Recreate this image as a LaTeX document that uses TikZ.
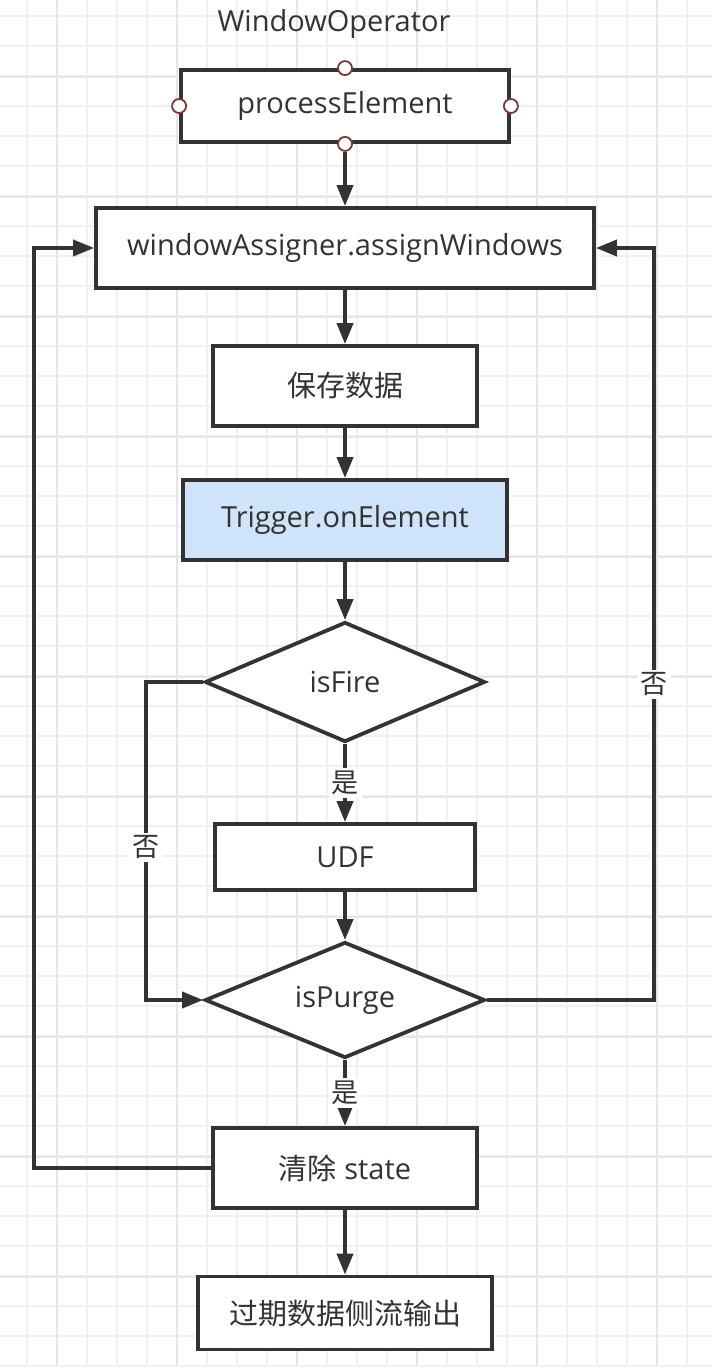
\documentclass[tikz,border=0pt]{standalone}
\usepackage{fontspec}
\setmainfont{Open Sans}
\newfontfamily\cjk{Noto Sans CJK SC}
\usetikzlibrary{arrows.meta,shapes.geometric}
\definecolor{ink}{RGB}{51,51,51}
\definecolor{gridline}{RGB}{240,240,240}
\definecolor{gridmajor}{RGB}{230,230,230}
\definecolor{trigblue}{RGB}{207,227,250}
\definecolor{portred}{RGB}{125,55,55}
\tikzset{
  box/.style={draw=ink,line width=3.8pt,fill=white,text=ink,inner sep=0pt,
    font=\fontsize{29pt}{33pt}\selectfont},
  dia/.style={box,diamond,aspect=2.4,minimum width=280pt},
  port/.style={circle,draw=portred,line width=1.8pt,fill=white,minimum size=14pt,inner sep=0pt},
  arr/.style={draw=ink,line width=3.8pt,-{Triangle[length=21pt,width=16pt]}},
  lbl/.style={fill=white,text=ink,inner sep=3pt,font=\fontsize{27pt}{30pt}\selectfont\cjk}
}
\begin{document}
\begin{tikzpicture}[x=1pt,y=-1pt]
  \useasboundingbox (0,0) rectangle (712,1370);
  \fill[white] (0,0) rectangle (712,1370);
  \foreach \i in {0,...,22}{
    \draw[gridline,line width=1.6pt] (27+30*\i,0) -- (27+30*\i,1365);}
  \foreach \i in {0,...,45}{
    \draw[gridline,line width=1.6pt] (0,16+30*\i) -- (712,16+30*\i);}
  \foreach \i in {0,...,5}{
    \draw[gridmajor,line width=1.8pt] (57+120*\i,0) -- (57+120*\i,1365);}
  \foreach \i in {0,...,11}{
    \draw[gridmajor,line width=1.8pt] (0,77+120*\i) -- (712,77+120*\i);}

  \node[text=ink,font=\fontsize{29pt}{33pt}\selectfont] (title) at (334,24) {WindowOperator};
  \node[box,minimum width=328pt,minimum height=72pt] (pe) at (345,106) {processElement};
  \node[port] (pen) at (pe.north) {};
  \node[port] (pes) at (pe.south) {};
  \node[port] (pew) at (pe.west) {};
  \node[port] (pee) at (pe.east) {};
  \node[box,minimum width=498pt,minimum height=80pt] (wa) at (345,248) {windowAssigner.assignWindows};
  \node[box,minimum width=264pt,minimum height=80pt] (save) at (345,386) {\cjk 保存数据};
  \node[box,fill=trigblue,minimum width=324pt,minimum height=80pt] (trig) at (345,520) {Trigger.onElement};
  \node[dia,minimum height=120pt] (fire) at (345,682) {isFire};
  \node[box,minimum width=260pt,minimum height=66pt] (udf) at (345,857) {UDF};
  \node[dia,minimum height=116pt] (purge) at (345,1000) {isPurge};
  \node[box,minimum width=264pt,minimum height=80pt] (clear) at (345,1168) {{\cjk 清除} state};
  \node[box,minimum width=294pt,minimum height=73pt] (out) at (345,1313) {\cjk 过期数据侧流输出};

  \coordinate (farleft) at (34,0);
  \coordinate (left) at (146,0);
  \coordinate (right) at (654,0);

  \draw[arr] (pes) -- (wa.north);
  \draw[arr] (wa.south) -- (save.north);
  \draw[arr] (save.south) -- (trig.north);
  \draw[arr] (trig.south) -- (fire.north);
  \draw[arr] (fire.south) -- node[lbl]{是} (udf.north);
  \draw[arr] (udf.south) -- (purge.north);
  \draw[arr] (purge.south) -- node[lbl]{是} (clear.north);
  \draw[arr] (clear.south) -- (out.north);
  \draw[arr] (fire.west) -- (fire.west -| left) |- node[lbl,pos=0.26]{否} (purge.west);
  \draw[arr] (purge.east) -- (purge.east -| right) |- node[lbl,pos=0.21]{否} (wa.east);
  \draw[arr] (clear.west) -- (clear.west -| farleft) |- (wa.west);
\end{tikzpicture}
\end{document}
